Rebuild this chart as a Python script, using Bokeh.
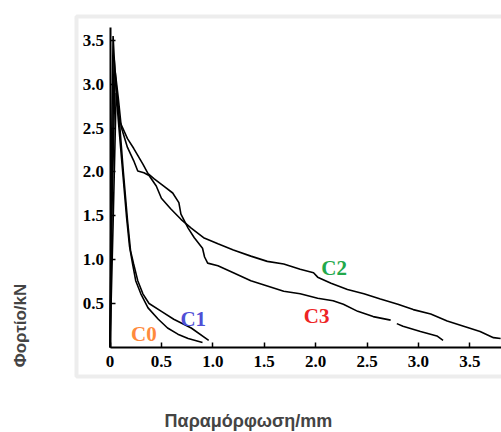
import numpy as np
from math import pi
from bokeh.plotting import figure
from bokeh.models import Range1d, FixedTicker, BoxAnnotation, Label, NumeralTickFormatter
from bokeh.core.properties import value
from bokeh.embed import file_html
from bokeh.resources import INLINE

nan = np.nan

# ---- data ----
c0_x = np.array([0, 0.01, 0.03, 0.05, 0.08, 0.12, 0.16, 0.19, 0.22, 0.25, 0.30, 0.37, 0.47, 0.56, 0.66, 0.76, 0.90])
c0_y = np.array([0, 1.8, 3.55, 3.1, 2.6, 2.05, 1.5, 1.15, 0.95, 0.76, 0.61, 0.45, 0.32, 0.22, 0.15, 0.10, 0.055])

c1_x = np.array([0, 0.015, 0.04, 0.06, 0.09, 0.13, 0.17, 0.20, 0.23, 0.27, 0.32, 0.38, 0.50, 0.62, 0.79, 0.96])
c1_y = np.array([0, 1.6, 3.3, 3.0, 2.6, 2.0, 1.45, 1.1, 0.95, 0.76, 0.61, 0.50, 0.41, 0.32, 0.22, 0.08])

c2_x = np.array([0, 0.02, 0.05, 0.08, 0.11, 0.17, 0.23, 0.27, 0.33, 0.38, 0.45, 0.50, 0.59, 0.69, 0.79,
                 0.91, 1.05, 1.20, 1.37, 1.53, 1.69, 1.85, 1.98, 2.02, 2.15, 2.31, 2.47, 2.63, 2.80,
                 2.95, 3.12, 3.28, 3.44, 3.60, 3.73, 3.80])
c2_y = np.array([0, 1.6, 3.15, 2.85, 2.51, 2.28, 2.13, 2.01, 1.99, 1.96, 1.84, 1.70, 1.58, 1.46, 1.36,
                 1.25, 1.18, 1.11, 1.04, 0.98, 0.95, 0.89, 0.85, 0.80, 0.73, 0.66, 0.61, 0.55, 0.49,
                 0.43, 0.38, 0.30, 0.24, 0.18, 0.11, 0.10])

c3_x = np.array([0, 0.03, 0.06, 0.09, 0.17, 0.23, 0.32, 0.37, 0.43, 0.52, 0.61, 0.67, 0.69, 0.76, 0.82,
                 0.90, 0.92, 0.95, 1.05, 1.20, 1.37, 1.53, 1.69, 1.85, 2.02, 2.17, 2.27, 2.41, 2.56,
                 2.73, nan, 2.79, 2.85, 3.02, 3.18, 3.24])
c3_y = np.array([0, 1.4, 2.9, 2.59, 2.38, 2.27, 2.09, 1.98, 1.92, 1.84, 1.76, 1.65, 1.52, 1.36, 1.25,
                 1.13, 1.03, 0.96, 0.93, 0.85, 0.76, 0.70, 0.64, 0.61, 0.56, 0.53, 0.49, 0.41, 0.35,
                 0.31, nan, 0.27, 0.24, 0.18, 0.13, 0.08])

curve_labels = ["C0", "C1", "C2", "C3"]
label_x = [0.33, 0.81, 2.18, 2.01]
label_y = [0.15, 0.32, 0.91, 0.36]
label_colors = ["#ff8a3d", "#4f4fd6", "#22a94a", "#ee2424"]

x_ticks = [0, 0.5, 1.0, 1.5, 2.0, 2.5, 3.0, 3.5]
y_ticks = [0.5, 1.0, 1.5, 2.0, 2.5, 3.0, 3.5]

x_title = "Παραμόρφωση/mm"
y_title = "Φορτίο/kN"

# ---- layout ----
W, H = 501, 432
OX, OY = 109.5, 346.8      # canvas position of the data origin
SX, SY = 102.8, 87.67      # pixels per unit

p = figure(width=W, height=H, title=None,
           x_range=Range1d(-OX / SX, (W - OX) / SX),
           y_range=Range1d(-(H - OY) / SY, OY / SY),
           output_backend="svg", toolbar_location=None, min_border=0)
p.outline_line_color = None
p.xgrid.visible = False
p.ygrid.visible = False
p.background_fill_color = "white"
p.border_fill_color = "white"

# grey frame box
p.add_layout(BoxAnnotation(left=-0.326, right=4.3, bottom=-0.333, top=3.773,
                           fill_color=None, line_color="#c2c2c2", line_width=4))

for xs, ys in [(c0_x, c0_y), (c1_x, c1_y), (c2_x, c2_y), (c3_x, c3_y)]:
    p.line(xs, ys, line_color="black", line_width=1.6)

p.text(x=label_x, y=label_y, text=curve_labels, text_color=label_colors,
       text_font=value("Liberation Serif"), text_font_style="bold",
       text_font_size="21px", text_align="center", text_baseline="middle")

for ax in (p.xaxis[0], p.yaxis[0]):
    ax.fixed_location = 0
    ax.axis_line_color = "black"
    ax.axis_line_width = 2
    ax.major_tick_in = 5
    ax.major_tick_out = 0
    ax.major_tick_line_width = 1.5
    ax.minor_tick_in = 0
    ax.minor_tick_out = 0
    ax.major_label_text_font = "Liberation Serif"
    ax.major_label_text_font_style = "bold"
    ax.major_label_text_font_size = "17px"
    ax.major_label_text_color = "black"
    ax.formatter = NumeralTickFormatter(format="0.0")

p.xaxis[0].ticker = FixedTicker(ticks=x_ticks)
p.yaxis[0].ticker = FixedTicker(ticks=y_ticks)
p.xaxis[0].major_label_overrides = {0: "0"}
p.xaxis[0].bounds = (0, (W - OX) / SX)
p.yaxis[0].bounds = (0, 3.65)
p.xaxis[0].major_label_standoff = 9
p.yaxis[0].major_label_standoff = 6

p.add_layout(Label(x=1.347, y=-0.835, text=x_title, text_font="Liberation Sans",
                   text_font_style="bold", text_font_size="18px",
                   text_align="center", text_baseline="middle"))
p.add_layout(Label(x=-0.871, y=0.249, text=y_title, angle=pi / 2, text_font="Liberation Sans",
                   text_font_style="bold", text_font_size="17px",
                   text_align="center", text_baseline="middle"))

open("out.html", "w").write(file_html(p, INLINE))
